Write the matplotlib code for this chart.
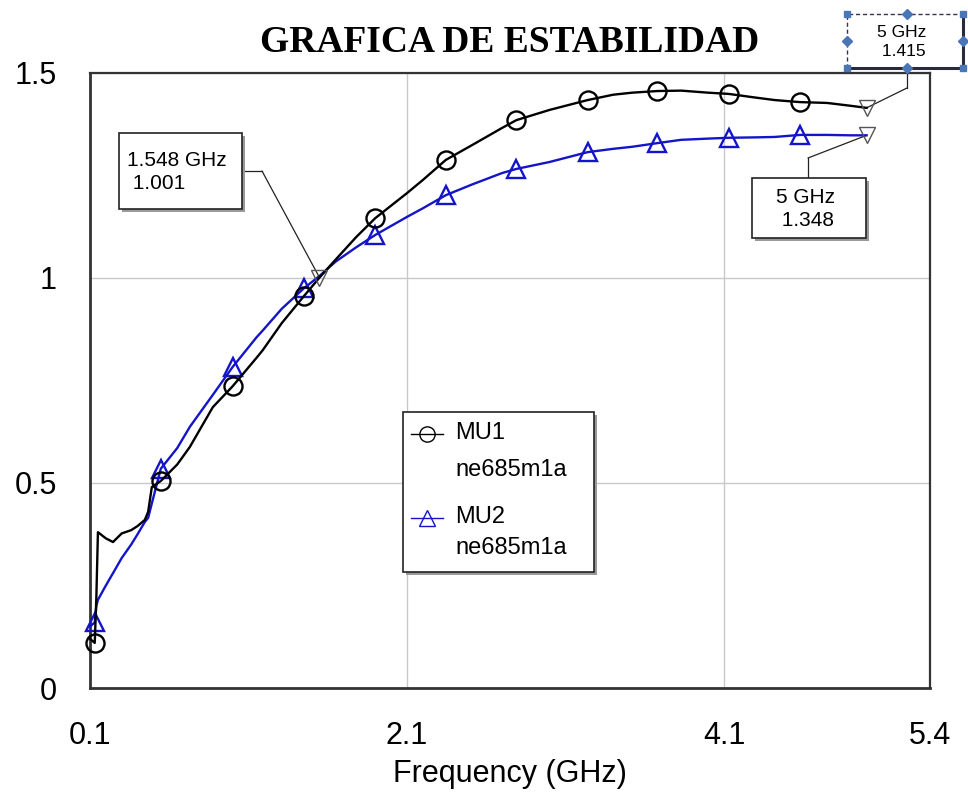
import numpy as np
import matplotlib
matplotlib.use("Agg")
import matplotlib.pyplot as plt
from matplotlib.lines import Line2D
from matplotlib.patches import Rectangle

# ---- data -------------------------------------------------------------
freq_ghz = [0.10, 0.13, 0.14, 0.15, 0.20, 0.245, 0.30, 0.36, 0.40, 0.446,
            0.467, 0.49, 0.547, 0.65, 0.73, 0.875, 1.00, 1.15, 1.19, 1.31,
            1.45, 1.548, 1.65, 1.78, 1.90, 2.10, 2.20, 2.345, 2.51, 2.70,
            2.79, 3.00, 3.24, 3.40, 3.52, 3.68, 3.83, 4.00, 4.13, 4.30,
            4.42, 4.58, 4.75, 4.90, 5.00]

mu1 = [0.12, 0.11, 0.22, 0.38, 0.365, 0.356, 0.377, 0.385, 0.395, 0.41,
       0.43, 0.49, 0.505, 0.545, 0.588, 0.685, 0.736, 0.805, 0.824, 0.89,
       0.956, 1.001, 1.045, 1.10, 1.146, 1.207, 1.239, 1.288, 1.324, 1.366,
       1.385, 1.41, 1.434, 1.447, 1.452, 1.456, 1.457, 1.452, 1.449, 1.44,
       1.434, 1.429, 1.427, 1.42, 1.415]

mu2 = [0.15, 0.16, 0.20, 0.215, 0.25, 0.28, 0.317, 0.35, 0.375, 0.405,
       0.415, 0.45, 0.535, 0.585, 0.637, 0.715, 0.783, 0.855, 0.872, 0.925,
       0.975, 1.005, 1.04, 1.075, 1.105, 1.149, 1.17, 1.202, 1.228, 1.256,
       1.266, 1.283, 1.307, 1.315, 1.32, 1.329, 1.337, 1.34, 1.342, 1.343,
       1.344, 1.349, 1.349, 1.348, 1.348]

# frequencies where the trace symbols are placed
symbol_freqs = [0.13, 0.547, 1.00, 1.45, 1.90, 2.345, 2.79, 3.24, 3.68,
                4.13, 4.58]

# marker readouts: (frequency, value)
mk_freq = [1.548, 5.0, 5.0]
mk_val = [1.001, 1.415, 1.348]
mk_text = ["1.548 GHz\n 1.001", "5 GHz\n 1.415", "5 GHz\n 1.348"]

series_names = ["MU1", "MU2"]
source_name = "ne685m1a"
title = "GRAFICA DE ESTABILIDAD"
xlabel = "Frequency (GHz)"
xticks = [0.1, 2.1, 4.1, 5.4]
xtick_labels = ["0.1", "2.1", "4.1", "5.4"]
yticks = [0, 0.5, 1, 1.5]
ytick_labels = ["0", "0.5", "1", "1.5"]

# ---- figure -----------------------------------------------------------
W, H = 968, 796
DPI = 100
SANS = ["Liberation Sans", "DejaVu Sans"]
BLUE = "#1414C8"

fig = plt.figure(figsize=(W / DPI, H / DPI), dpi=DPI)
fig.patch.set_facecolor("white")


def fx(px):
    return px / W


def fy(py):
    return 1 - py / H


ax = fig.add_axes([fx(90), fy(688), (930 - 90) / W, (688 - 73) / H])
ax.set_xlim(0.1, 5.4)
ax.set_ylim(0, 1.5)

ax.set_xticks(xticks)
ax.set_xticklabels(xtick_labels, fontfamily=SANS, fontsize=22)
ax.set_yticks(yticks)
ax.set_yticklabels(ytick_labels, fontfamily=SANS, fontsize=22)
ax.tick_params(axis="both", length=0, colors="black")
ax.tick_params(axis="x", pad=24)
ax.tick_params(axis="y", pad=24)
ax.grid(True, color="#c8c8c8", lw=1.0)
ax.set_axisbelow(True)
for sp in ax.spines.values():
    sp.set_color("#333333")
    sp.set_linewidth(1.6)
ax.spines["left"].set_linewidth(2.0)
ax.spines["bottom"].set_linewidth(2.0)

ax.set_xlabel(xlabel, fontfamily=SANS, fontsize=22)
ax.xaxis.set_label_coords(0.5, -0.115)

f = np.asarray(freq_ghz)
sym_idx = [int(np.argmin(np.abs(f - s))) for s in symbol_freqs]

ax.plot(freq_ghz, mu1, color="black", lw=1.7, marker="o", markersize=13,
        markerfacecolor="none", markeredgewidth=1.7, markevery=sym_idx,
        zorder=4, clip_on=False)
ax.plot(freq_ghz, mu2, color=BLUE, lw=1.7, marker="^", markersize=13,
        markerfacecolor="none", markeredgewidth=1.7, markevery=sym_idx,
        zorder=3, clip_on=False)

# marker readout symbols
ax.plot(mk_freq, mk_val, linestyle="none", marker="v", markersize=12,
        markerfacecolor="none", markeredgecolor="#555555",
        markeredgewidth=1.0, zorder=5)

# ---- title ------------------------------------------------------------
fig.text(fx(510), fy(42), title, ha="center", va="center",
         fontfamily=["Liberation Serif", "DejaVu Serif"], fontweight="bold",
         fontsize=27)


# ---- readout boxes ----------------------------------------------------
def framed_box(x0, y0, x1, y1, shadow=True, lw=1.2, ec="#222222"):
    if shadow:
        fig.add_artist(Rectangle((fx(x0 + 3), fy(y1 + 3)), (x1 - x0) / W,
                                 (y1 - y0) / H, transform=fig.transFigure,
                                 facecolor="#9a9a9a", edgecolor="none",
                                 zorder=6))
    fig.add_artist(Rectangle((fx(x0), fy(y1)), (x1 - x0) / W, (y1 - y0) / H,
                             transform=fig.transFigure, facecolor="white",
                             edgecolor=ec, lw=lw, zorder=7))


def leader(points_px, data_xy):
    xs = [fx(p[0]) for p in points_px]
    ys = [fy(p[1]) for p in points_px]
    fig.add_artist(Line2D(xs, ys, transform=fig.transFigure, color="#222222",
                          lw=0.9, zorder=5))
    ax.annotate("", xy=data_xy, xycoords="data",
                xytext=(points_px[-1][0], H - points_px[-1][1]),
                textcoords="figure pixels", annotation_clip=False,
                arrowprops=dict(arrowstyle="-", color="#222222", lw=0.9,
                                shrinkA=0, shrinkB=0))


# 1.548 GHz readout
framed_box(119, 133, 242, 209)
fig.text(fx(127), fy(172), mk_text[0], ha="left", va="center",
         fontfamily=SANS, fontsize=15, zorder=8, linespacing=1.25)
leader([(242, 171), (262, 171)], (mk_freq[0], mk_val[0]))

# 5 GHz MU2 readout
framed_box(752, 178, 866, 238)
fig.text(fx(776), fy(209), mk_text[2], ha="left", va="center",
         fontfamily=SANS, fontsize=15, zorder=8, linespacing=1.25)
leader([(808, 178), (808, 158)], (mk_freq[2], mk_val[2]))

# 5 GHz MU1 readout (selected, with handles)
SEL = "#4a76b8"
bx0, by0, bx1, by1 = 847, 14, 963, 68
fig.add_artist(Rectangle((fx(bx0), fy(by1)), (bx1 - bx0) / W,
                         (by1 - by0) / H, transform=fig.transFigure,
                         facecolor="white", edgecolor="none", zorder=6))
fig.add_artist(Line2D([fx(bx0), fx(bx0), fx(bx1)],
                      [fy(by1), fy(by0), fy(by0)], transform=fig.transFigure,
                      color="#333355", lw=1.0, ls=(0, (3, 2)), zorder=7))
fig.add_artist(Line2D([fx(bx0), fx(bx1), fx(bx1)],
                      [fy(by1), fy(by1), fy(by0)], transform=fig.transFigure,
                      color="#2a2a3a", lw=2.2, zorder=7))
mx, my = (bx0 + bx1) / 2 + 2, (by0 + by1) / 2
for hx, hy in [(bx0, by0), (bx1, by0), (bx0, by1), (bx1, by1)]:
    fig.add_artist(Line2D([fx(hx)], [fy(hy)], transform=fig.transFigure,
                          marker="s", markersize=5, color=SEL, zorder=9))
for hx, hy in [(907, by0), (907, by1), (bx0, my), (bx1, my)]:
    fig.add_artist(Line2D([fx(hx)], [fy(hy)], transform=fig.transFigure,
                          marker="D", markersize=5, color=SEL, zorder=9))
fig.text(fx(877), fy(42), mk_text[1], ha="left", va="center",
         fontfamily=SANS, fontsize=12.5, zorder=8, linespacing=1.3)
leader([(907, 68), (907, 88)], (mk_freq[1], mk_val[1]))

# ---- legend -----------------------------------------------------------
framed_box(403, 412, 594, 572)
legend_rows = [(434, "black", "o", 470), (518, BLUE, "^", 548)]
for name, (hy, col, mk, sy) in zip(series_names, legend_rows):
    fig.add_artist(Line2D([fx(411), fx(443)], [fy(hy), fy(hy)],
                          transform=fig.transFigure, color=col, lw=1.0,
                          zorder=8))
    fig.add_artist(Line2D([fx(427)], [fy(hy)], transform=fig.transFigure,
                          marker=mk, markersize=11, markerfacecolor="none",
                          markeredgecolor=col, markeredgewidth=1.0,
                          zorder=8))
    fig.text(fx(455), fy(hy - 1), name, ha="left", va="center",
             fontfamily=SANS, fontsize=17, zorder=8)
    fig.text(fx(455), fy(sy), source_name, ha="left", va="center",
             fontfamily=SANS, fontsize=17, zorder=8)

fig.savefig("out.png", dpi=DPI)
